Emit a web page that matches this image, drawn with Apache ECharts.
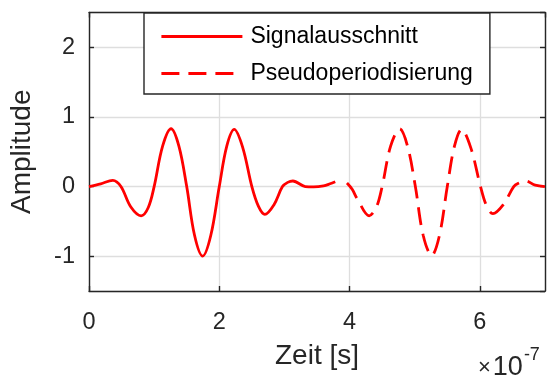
<!DOCTYPE html>
<html>
<head>
<meta charset="utf-8">
<script src="https://cdn.jsdelivr.net/npm/echarts@6/dist/echarts.min.js"></script>
<style>
  html, body { margin: 0; padding: 0; background: #fff; }
  #chart { width: 551px; height: 378px; }
</style>
</head>
<body>
<div id="chart"></div>
<script>
// Time axis values are in units of 1e-7 s
const signalTime = [0, 0.18, 0.365, 0.49, 0.64, 0.80, 0.91, 1.00, 1.13, 1.26, 1.38, 1.50, 1.62, 1.745, 1.87, 2.00, 2.115, 2.23, 2.36, 2.50, 2.60, 2.70, 2.84, 2.97, 3.05, 3.13, 3.32, 3.45, 3.60, 3.70, 3.78];
const signalAmp  = [0, 0.04, 0.088, 0, -0.29, -0.42, -0.30, 0, 0.58, 0.83, 0.58, 0, -0.70, -1.00, -0.70, 0, 0.58, 0.82, 0.56, 0, -0.28, -0.40, -0.26, 0, 0.06, 0.08, 0, -0.005, 0.01, 0.04, 0.07];

const periodTime = [3.96, 4.04, 4.12, 4.30, 4.41, 4.50, 4.63, 4.77, 4.89, 5.01, 5.13, 5.26, 5.38, 5.50, 5.61, 5.72, 5.86, 6.01, 6.10, 6.20, 6.36, 6.52, 6.60, 6.70, 6.85, 7.00];
const periodAmp  = [0.05, -0.04, -0.18, -0.42, -0.30, 0, 0.58, 0.83, 0.58, 0, -0.70, -0.99, -0.70, 0, 0.58, 0.82, 0.56, 0, -0.27, -0.39, -0.26, 0, 0.05, 0.08, 0.02, 0];

const seriesNames = ['Signalausschnitt', 'Pseudoperiodisierung'];
const xTicks = { min: 0, max: 7, step: 2 };
const yRange = { min: -1.5, max: 2.5 };

const axisColor = '#262626';
const gridColor = '#dedede';
const font = 'Arial, "Liberation Sans", Helvetica, sans-serif';

function pairs(xs, ys) { return xs.map((x, i) => [x, ys[i]]); }

const chart = echarts.init(document.getElementById('chart'), null, { renderer: 'canvas' });

const baseAxis = {
  axisLine: { show: true, onZero: false, lineStyle: { color: axisColor, width: 1.4 } },
  axisTick: { show: true, inside: true, length: 5, lineStyle: { color: axisColor, width: 1.4 } },
  axisLabel: { color: axisColor, fontFamily: font, fontSize: 23.5, showMinLabel: true, showMaxLabel: false },
  splitLine: { show: false }
};

chart.setOption({
  animation: false,
  backgroundColor: '#ffffff',
  grid: { left: 86, top: 12.5, width: 459, height: 278.5, containLabel: false },
  xAxis: [
    Object.assign({}, baseAxis, {
      type: 'value', position: 'bottom', min: xTicks.min, max: xTicks.max, interval: xTicks.step,
      name: 'Zeit [s]', nameLocation: 'middle', nameGap: 51,
      nameTextStyle: { color: axisColor, fontFamily: font, fontSize: 28 },
      axisLabel: Object.assign({}, baseAxis.axisLabel, { margin: 20 }),
      splitLine: { show: true, lineStyle: { color: gridColor, width: 1.3 } }
    }),
    Object.assign({}, baseAxis, {
      type: 'value', position: 'top', min: xTicks.min, max: xTicks.max, interval: xTicks.step,
      axisLabel: { show: false }
    })
  ],
  yAxis: [
    Object.assign({}, baseAxis, {
      type: 'value', position: 'left', min: yRange.min, max: yRange.max, splitNumber: 4,
      name: 'Amplitude', nameLocation: 'middle', nameGap: 53,
      nameTextStyle: { color: axisColor, fontFamily: font, fontSize: 28 },
      axisLabel: Object.assign({}, baseAxis.axisLabel, { margin: 14, showMinLabel: false }),
      splitLine: { show: true, lineStyle: { color: gridColor, width: 1.3 } }
    }),
    Object.assign({}, baseAxis, {
      type: 'value', position: 'right', min: yRange.min, max: yRange.max, splitNumber: 4,
      axisLabel: { show: false }
    })
  ],
  legend: {
    orient: 'vertical',
    left: 144, top: 13,
    padding: [12, 17, 9, 16],
    itemGap: 14,
    itemWidth: 81, itemHeight: 20,
    backgroundColor: '#ffffff',
    borderColor: axisColor, borderWidth: 1.4, borderRadius: 0,
    itemStyle: { opacity: 0 },
    lineStyle: { width: 2.8 },
    textStyle: { color: '#000', fontFamily: font, fontSize: 23, padding: [0, 0, 0, 3] },
    data: seriesNames
  },
  series: [
    {
      name: seriesNames[0], type: 'line', smooth: 0.35, showSymbol: false, symbol: 'none',
      lineStyle: { color: '#ff0000', width: 2.8 }, itemStyle: { color: '#ff0000' },
      data: pairs(signalTime, signalAmp)
    },
    {
      name: seriesNames[1], type: 'line', smooth: 0.35, showSymbol: false, symbol: 'none',
      lineStyle: { color: '#ff0000', width: 2.8, type: [18, 9] }, itemStyle: { color: '#ff0000' },
      data: pairs(periodTime, periodAmp)
    }
  ],
  graphic: [{
    type: 'text', left: 478, top: 346,
    style: {
      text: '{x|×}{b|10}{e|-7}',
      rich: {
        x: { fontFamily: font, fontSize: 22, fill: axisColor, padding: [8, 2, 0, 0] },
        b: { fontFamily: font, fontSize: 27, fill: axisColor, padding: [8, 0, 0, 0] },
        e: { fontFamily: font, fontSize: 18, fill: axisColor, verticalAlign: 'top', padding: [0, 0, 14, 1] }
      }
    }
  }]
});
</script>
</body>
</html>
